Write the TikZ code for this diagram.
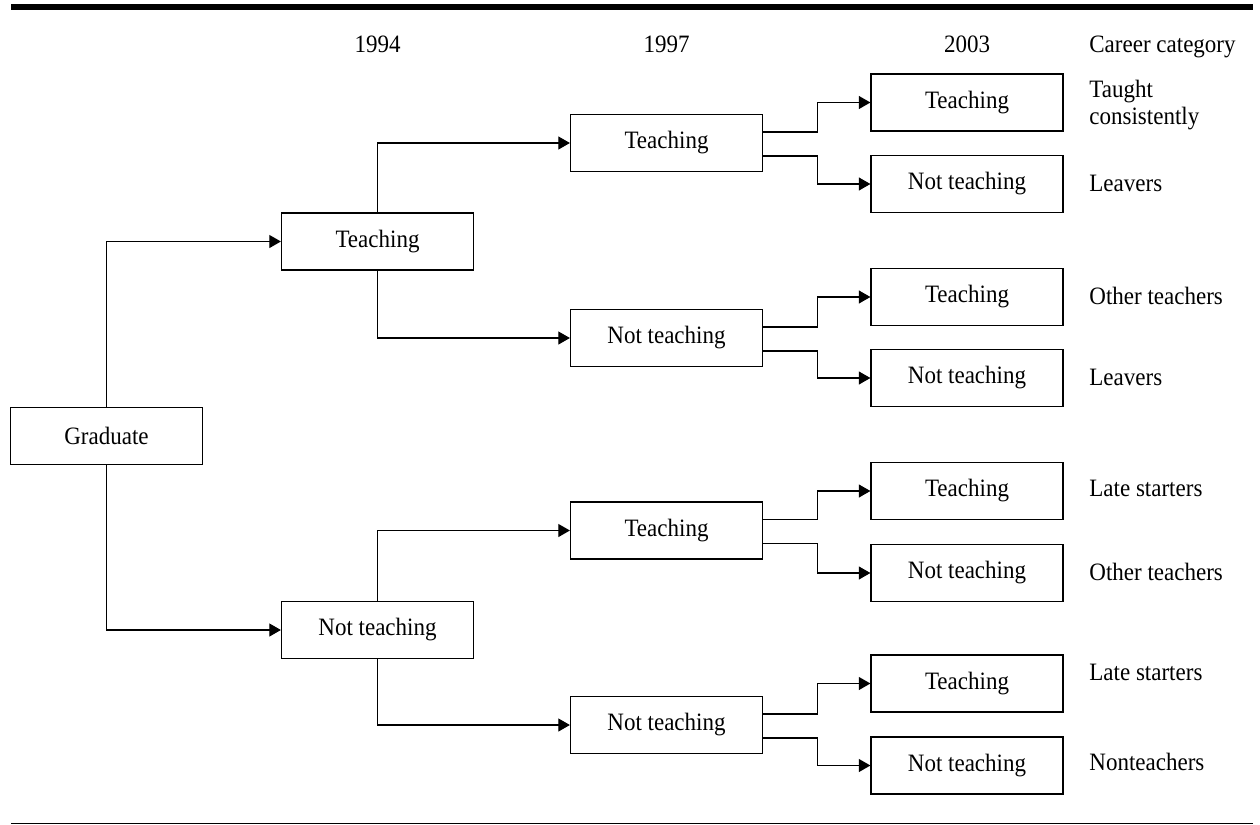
\documentclass[tikz,border=0pt]{standalone}
\usepackage{fontspec}
\setmainfont{Liberation Serif}[FakeStretch=0.92]
\usetikzlibrary{arrows.meta,calc}
\newcommand{\dfont}{\fontsize{12.5}{14}\selectfont}
\begin{document}
\begin{tikzpicture}[x=0.5pt,y=-0.5pt,
  box/.style={draw, line width=0.6pt, minimum width=96pt, minimum height=28.5pt, inner sep=0pt, font=\dfont},
  lbl/.style={anchor=base west, inner sep=0pt, font=\dfont},
  yr/.style={anchor=base, inner sep=0pt, font=\dfont},
  conn/.style={line width=0.6pt, -{Triangle[length=5.8pt,width=6.5pt]}},
  rule/.style={line width=0.6pt}
]
\useasboundingbox (0,0) rectangle (1260,825);
% rules
\fill (11,4.3) rectangle (1253,10);
\coordinate (bl) at (11,823.4);
\coordinate (br) at (1253,823.4);
\draw[rule] (bl) -- (br);
% headers
\node[yr] (h94) at (377.5,52) {1994};
\node[yr] (h97) at (666.5,52) {1997};
\node[yr] (h03) at (967,52) {2003};
\node[lbl] (hcc) at (1089,52) {Career category};
% boxes
\node[box] (g) at (106.5,436) {Graduate};
\node[box] (t94) at (377.5,241.5) {Teaching};
\node[box] (n94) at (377.5,630) {Not teaching};
\node[box] (t97a) at (666.5,143) {Teaching};
\node[box] (n97a) at (666.5,338) {Not teaching};
\node[box] (t97b) at (666.5,530.5) {Teaching};
\node[box] (n97b) at (666.5,725) {Not teaching};
\node[box] (r1) at (967,102.5) {Teaching};
\node[box] (r2) at (967,184) {Not teaching};
\node[box] (r3) at (967,297) {Teaching};
\node[box] (r4) at (967,378) {Not teaching};
\node[box] (r5) at (967,491) {Teaching};
\node[box] (r6) at (967,573) {Not teaching};
\node[box] (r7) at (967,683.5) {Teaching};
\node[box] (r8) at (967,765.5) {Not teaching};
% labels
\node[lbl] (c1a) at (1089,97) {Taught};
\node[lbl] (c1b) at (1089,124) {consistently};
\node[lbl] (c2) at (1089,191.7) {Leavers};
\node[lbl] (c3) at (1089,304.7) {Other teachers};
\node[lbl] (c4) at (1089,385.7) {Leavers};
\node[lbl] (c5) at (1089,496) {Late starters};
\node[lbl] (c6) at (1089,580.7) {Other teachers};
\node[lbl] (c7) at (1089,680) {Late starters};
\node[lbl] (c8) at (1089,770.7) {Nonteachers};
% connectors from graduate
\draw[conn] (g.north) |- (t94.west);
\draw[conn] (g.south) |- (n94.west);
% 1994 -> 1997
\draw[conn] (t94.north) |- (t97a.west);
\draw[conn] (t94.south) |- (n97a.west);
\draw[conn] (n94.north) |- (t97b.west);
\draw[conn] (n94.south) |- (n97b.west);
% 1997 -> 2003
\foreach \s/\a/\b in {t97a/r1/r2, n97a/r3/r4, t97b/r5/r6, n97b/r7/r8}{
  \draw[conn] ($(\s.east)+(0,-11)$) -- ++(54,0) |- (\a.west);
  \draw[conn] ($(\s.east)+(0,13)$) -- ++(54,0) |- (\b.west);
}
\end{tikzpicture}
\end{document}
